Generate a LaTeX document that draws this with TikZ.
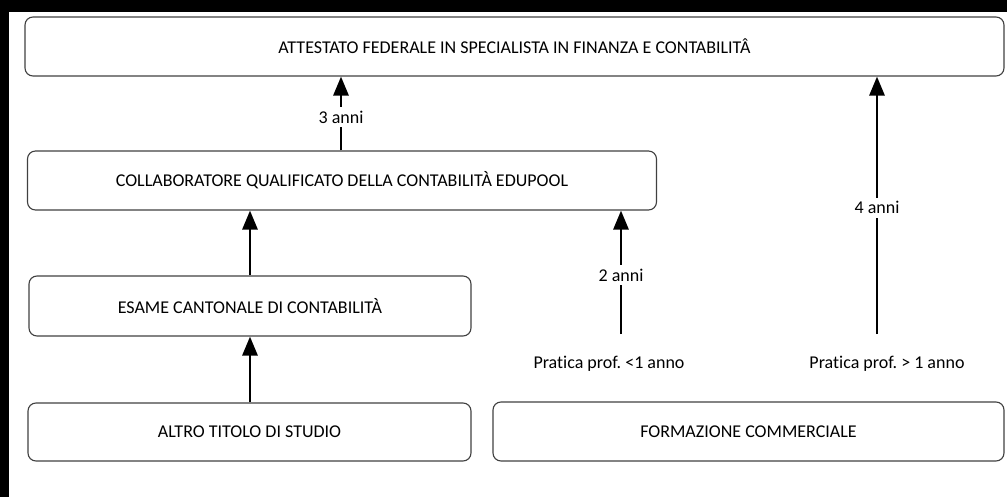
\documentclass[tikz,border=0pt]{standalone}
\usepackage{fontspec}
\setmainfont[Ligatures=NoCommon]{Carlito}
\usepackage{tikz}
\usetikzlibrary{arrows.meta,shapes}
\tikzstyle{box}=[draw=black!75,line width=1.1pt,rounded corners=8pt,inner sep=0pt,font=\fontsize{18}{21}\selectfont]
\tikzstyle{edge} = [draw,line width=2.8pt,-{Triangle[width=15pt,length=19pt]}]
\tikzstyle{lbl}=[fill=white,inner sep=4pt,font=\fontsize{18}{21}\selectfont]

\begin{document}
\begin{tikzpicture}[x=1pt,y=-1pt]
        \useasboundingbox (0,0) rectangle (1007,497);
        \fill[black] (0,0) rectangle (1007,12);
        \fill[black] (0,0) rectangle (9,497);
        \node[box,minimum width=979pt,minimum height=59pt] (att) at (514.5,46.5) {ATTESTATO FEDERALE IN SPECIALISTA IN FINANZA E CONTABILIT\^A};
        \node[box,minimum width=629pt,minimum height=59pt] (coll) at (342,180.5) {COLLABORATORE QUALIFICATO DELLA CONTABILIT\`A EDUPOOL};
        \node[box,minimum width=442pt,minimum height=60pt] (esame) at (250,306) {ESAME CANTONALE DI CONTABILIT\`A};
        \node[box,minimum width=443pt,minimum height=58pt] (altro) at (249.5,432) {ALTRO TITOLO DI STUDIO};
        \node[box,minimum width=511pt,minimum height=59pt] (form) at (748.5,431.5) {FORMAZIONE COMMERCIALE};
        \node[lbl,fill=none] (pr1) at (609,364) {Pratica prof.\ <1 anno};
        \node[lbl,fill=none] (pr2) at (887,364) {Pratica prof.\ > 1 anno};
        \coordinate (x3) at (341,0);
        \coordinate (x1) at (250,0);
        \coordinate (s2) at (621,334);
        \coordinate (s4) at (877,334);
        \draw[edge] (coll.north -| x3) -- node[lbl,pos=0.45] {3 anni} (att.south -| x3);
        \draw[edge] (esame.north -| x1) -- (coll.south -| x1);
        \draw[edge] (altro.north -| x1) -- (esame.south -| x1);
        \draw[edge] (s2) -- node[lbl,pos=0.476] {2 anni} (coll.south -| s2);
        \draw[edge] (s4) -- node[lbl,pos=0.49] {4 anni} (att.south -| s4);
      \end{tikzpicture}
\end{document}
